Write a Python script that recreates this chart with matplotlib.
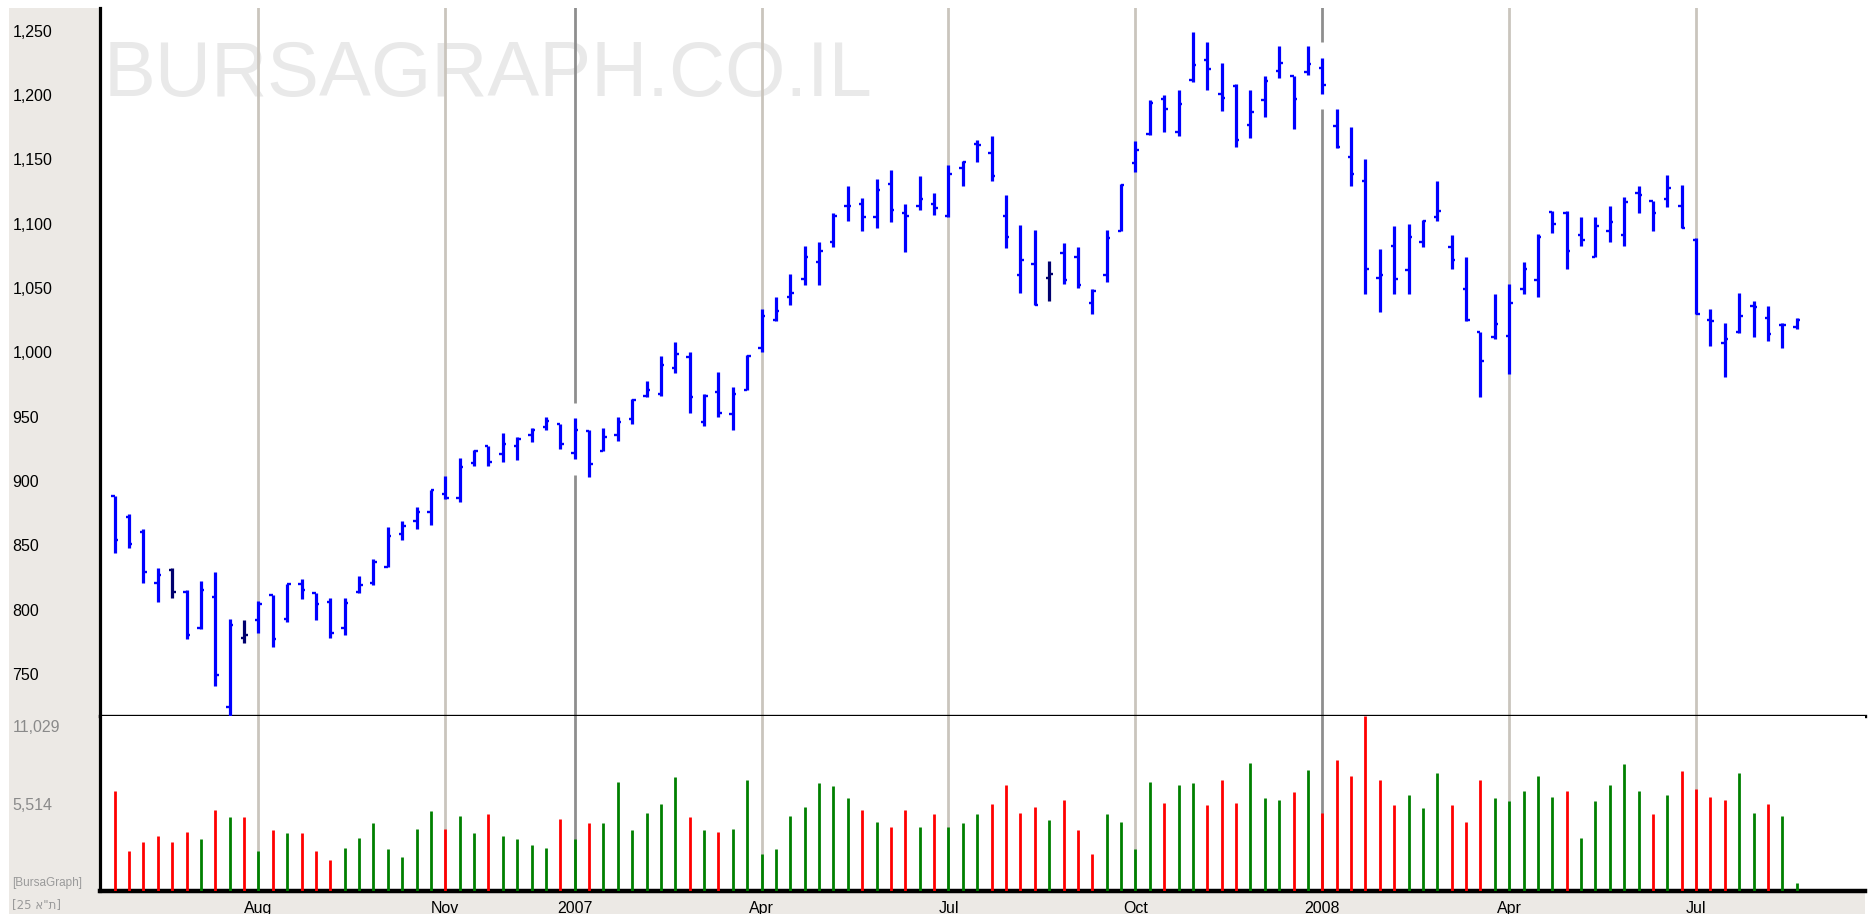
import matplotlib
matplotlib.use('Agg')
import matplotlib.pyplot as plt
import matplotlib.transforms as mtrans
from matplotlib.patches import Rectangle
import numpy as np

plt.rcParams['font.family'] = ['Liberation Sans', 'DejaVu Sans']

# weekly OHLC of the index, Jun 2006 - Aug 2008
open_ = [888, 872, 860, 821, 831, 814, 786, 810, 724, 778,
         792, 811, 793, 820, 813, 806, 786, 814, 821, 833,
         859, 869, 876, 890, 887, 914, 927, 921, 927, 936,
         942, 944, 922, 939, 923, 936, 948, 966, 968, 988,
         996, 946, 969, 952, 971, 1003, 1025, 1043, 1057, 1070,
         1086, 1114, 1115, 1105, 1131, 1108, 1114, 1115, 1106, 1143,
         1162, 1155, 1106, 1060, 1069, 1058, 1077, 1074, 1038, 1060,
         1094, 1147, 1170, 1197, 1171, 1212, 1227, 1201, 1207, 1177,
         1196, 1219, 1215, 1218, 1221, 1176, 1152, 1133, 1058, 1083,
         1064, 1086, 1105, 1082, 1049, 1016, 1012, 1013, 1049, 1056,
         1109, 1108, 1091, 1074, 1094, 1091, 1124, 1118, 1119, 1114,
         1087, 1025, 1007, 1016, 1036, 1027, 1021, 1020]
high = [888, 874, 863, 832, 832, 815, 822, 829, 793, 792,
        807, 811, 820, 824, 813, 809, 809, 826, 839, 864,
        869, 880, 893, 904, 918, 924, 927, 937, 934, 941,
        950, 944, 949, 940, 941, 950, 964, 978, 997, 1008,
        1000, 968, 985, 973, 998, 1034, 1043, 1061, 1083, 1086,
        1108, 1129, 1120, 1135, 1142, 1115, 1137, 1124, 1146, 1149,
        1165, 1168, 1122, 1099, 1095, 1071, 1085, 1082, 1049, 1095,
        1131, 1164, 1196, 1200, 1204, 1249, 1241, 1225, 1209, 1204,
        1215, 1238, 1215, 1238, 1229, 1189, 1175, 1150, 1080, 1098,
        1100, 1103, 1133, 1091, 1074, 1016, 1045, 1053, 1070, 1092,
        1110, 1110, 1105, 1105, 1114, 1121, 1129, 1118, 1138, 1130,
        1089, 1034, 1023, 1046, 1040, 1036, 1023, 1027]
low = [844, 848, 821, 806, 809, 777, 785, 741, 716, 774,
       782, 771, 790, 808, 792, 778, 780, 813, 819, 833,
       854, 863, 866, 886, 884, 912, 912, 915, 916, 930,
       940, 925, 917, 903, 923, 931, 944, 965, 966, 984,
       953, 943, 950, 940, 971, 1000, 1024, 1037, 1052, 1052,
       1082, 1102, 1094, 1097, 1101, 1078, 1111, 1107, 1105, 1129,
       1148, 1133, 1081, 1046, 1037, 1040, 1053, 1050, 1030, 1055,
       1094, 1140, 1169, 1171, 1168, 1210, 1204, 1188, 1160, 1167,
       1183, 1213, 1174, 1216, 1201, 1159, 1129, 1045, 1031, 1045,
       1045, 1082, 1102, 1065, 1024, 965, 1010, 983, 1045, 1043,
       1093, 1065, 1083, 1074, 1086, 1083, 1108, 1094, 1113, 1097,
       1030, 1005, 981, 1015, 1012, 1009, 1003, 1018]
close = [854, 851, 829, 827, 814, 780, 815, 749, 788, 780,
         804, 777, 820, 815, 804, 782, 805, 819, 837, 857,
         865, 876, 893, 887, 911, 923, 915, 929, 933, 940,
         947, 929, 940, 913, 934, 946, 963, 971, 990, 999,
         965, 966, 953, 968, 997, 1028, 1032, 1046, 1074, 1079,
         1106, 1114, 1105, 1126, 1111, 1106, 1119, 1112, 1139, 1148,
         1161, 1137, 1090, 1072, 1037, 1061, 1056, 1052, 1048, 1089,
         1130, 1157, 1194, 1189, 1193, 1223, 1220, 1198, 1165, 1187,
         1211, 1225, 1197, 1224, 1208, 1160, 1139, 1065, 1060, 1057,
         1090, 1102, 1110, 1072, 1025, 993, 1022, 1038, 1065, 1090,
         1100, 1079, 1087, 1098, 1101, 1117, 1122, 1108, 1128, 1097,
         1030, 1024, 1010, 1028, 1035, 1014, 1021, 1025]
volume = [6326, 2518, 3080, 3454, 3080, 3725, 3267, 5119, 4661, 4661,
          2518, 3829, 3642, 3642, 2518, 1956, 2705, 3350, 4287, 2622,
          2143, 3912, 5036, 3912, 4745, 3642, 4849, 3454, 3267, 2893,
          2705, 4557, 3267, 4287, 4287, 6888, 3829, 4932, 5494, 7159,
          4661, 3829, 3725, 3912, 6971, 2331, 2622, 4745, 5306, 6784,
          6597, 5868, 5119, 4370, 4016, 5119, 4016, 4849, 4016, 4287,
          4849, 5494, 6701, 4932, 5306, 4474, 5764, 3829, 2331, 4828,
          4370, 2622, 6888, 5577, 6701, 6784, 5390, 6971, 5577, 8095,
          5847, 5764, 6222, 7616, 4932, 8282, 7242, 11029, 6971, 5390,
          6035, 5202, 7429, 5390, 4370, 6971, 5847, 5681, 6326, 7242,
          5952, 6326, 3350, 5681, 6701, 7991, 6326, 4828, 6035, 7533,
          6409, 5952, 5764, 7429, 4932, 5494, 4745, 479]
# R = down week, G = up week (volume colour)
vol_dir = ("RRRRRRGRGR" "GRGRRRGGGG" "GGGRGGRGGG" "GRGRGGGGGG"
           "RGRGGGGGGG" "GGRGRRGRGG" "GRRRRGRRRG" "GGGRGGRRRG"
           "GGRGRRRRRR" "GGGRRRGGGG" "GRGGGGGRGR" "RRRGGRGG")
dark_bars = [4, 9, 65]

month_idx = [10, 23, 32, 45, 58, 71, 84, 97, 110]
month_lbl = ['Aug', 'Nov', '2007', 'Apr', 'Jul', 'Oct', '2008', 'Apr', 'Jul']
price_ticks = [750, 800, 850, 900, 950, 1000, 1050, 1100, 1150, 1200, 1250]
vol_ticks = [5514, 11029]

W, H = 1874, 914
fig = plt.figure(figsize=(W / 100, H / 100), dpi=100, facecolor='white')
fig.add_artist(Rectangle((9 / W, 0), 1856 / W, 906 / H, transform=fig.transFigure,
                         facecolor='#ECE9E5', edgecolor='none', zorder=-5))

left, width = 100 / W, 1765 / W
ax = fig.add_axes([left, 1 - 716 / H, width, 708 / H])
axv = fig.add_axes([left, 1 - 891 / H, width, 175 / H], sharex=ax)

x = np.arange(len(close))
bar_col = ['#00006E' if i in dark_bars else '#0000FF' for i in x]

ax.text(0.002, (716 - 96) / 708, 'BURSAGRAPH.CO.IL', transform=ax.transAxes,
        fontsize=56, color='#E9E9E9', va='baseline', ha='left', zorder=0)

for i, lbl in zip(month_idx, month_lbl):
    c = '#8E8E8E' if lbl.isdigit() else '#CAC5BD'
    ax.axvline(i, color=c, lw=2.0, zorder=1)
    axv.axvline(i, color=c, lw=2.0, zorder=1)
    if lbl.isdigit():
        ax.vlines(i, low[i] - 12, high[i] + 12, colors='white', lw=3.5, zorder=2)

ax.vlines(x, low, high, colors=bar_col, lw=2.3, zorder=3)
ax.hlines(open_, x - 0.24, x, colors=bar_col, lw=1.7, zorder=3)
ax.hlines(close, x, x + 0.24, colors=bar_col, lw=1.7, zorder=3)

vcol = ['#FF0000' if d == 'R' else '#008000' for d in vol_dir]
axv.vlines(x, 0, volume, colors=vcol, lw=2.0, zorder=3)

ax.set_xlim(-1.02, 121.75)
ax.set_ylim(717.3, 1267.7)
axv.set_ylim(0, 11029)

for a in (ax, axv):
    a.set_facecolor('white')
    a.spines['top'].set_visible(False)
    a.spines['right'].set_visible(False)
    a.spines['left'].set_linewidth(2.3)
ax.spines['bottom'].set_linewidth(2.4)
axv.spines['bottom'].set_linewidth(3.2)

ax.set_yticks(price_ticks, [f'{v:,}' for v in price_ticks])
ax.tick_params(axis='y', length=0, pad=63, labelsize=11.5)
for t in ax.get_yticklabels():
    t.set_ha('left')
ax.tick_params(axis='x', bottom=False, labelbottom=False)

axv.set_yticks(vol_ticks, [f'{v:,}' for v in vol_ticks])
axv.tick_params(axis='y', length=0, pad=63, labelsize=11.5, labelcolor='#8A8A8A')
vl = axv.get_yticklabels()
for t in vl:
    t.set_ha('left')
vl[1].set_va('top')
vl[1].set_transform(vl[1].get_transform() +
                    mtrans.ScaledTranslation(0, -0.04, fig.dpi_scale_trans))

axv.set_xticks(month_idx, month_lbl)
axv.tick_params(axis='x', length=0, pad=7, labelsize=11.5)

fig.text(12 / W, 1 - 883 / H, '[BursaGraph]', fontsize=8.5, color='#9A9A9A',
         va='center', ha='left')
fig.text(12 / W, 1 - 905 / H, '[25 א"ת]', fontsize=8.5, color='#9A9A9A',
         va='center', ha='left', family=['DejaVu Sans'])

fig.savefig('out.png', dpi=100, facecolor=fig.get_facecolor())
